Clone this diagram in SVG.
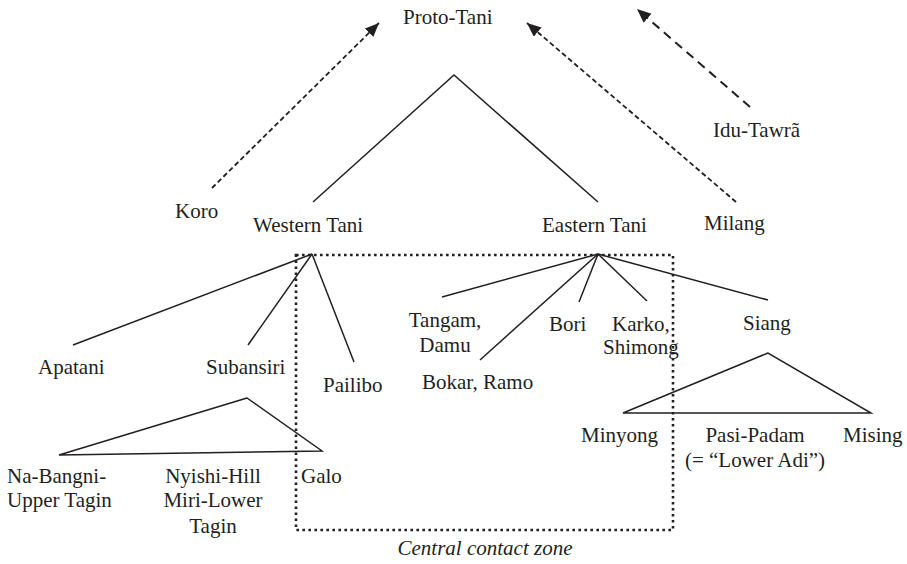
<svg xmlns="http://www.w3.org/2000/svg" width="907" height="564" viewBox="0 0 907 564" font-family="'Liberation Serif', 'DejaVu Serif', serif">
  <style>
    text { font-family: 'Liberation Serif', 'DejaVu Serif', serif; font-size: 21px; fill: #231f20; }
    .mid { text-anchor: middle; }
    .it { font-style: italic; }
    .tree { stroke: #231f20; stroke-width: 1.5; fill: none; }
    .contact { stroke: #231f20; stroke-width: 1.8; fill: none; stroke-dasharray: 5 3; }
    .contact-long { stroke: #231f20; stroke-width: 2; fill: none; stroke-dasharray: 9 6; }
    .zone { stroke: #231f20; stroke-width: 2.6; fill: none; stroke-dasharray: 2.6 3.4; }
  </style>
  <defs>
    <marker id="head" markerUnits="userSpaceOnUse" markerWidth="16" markerHeight="14" refX="14" refY="6" orient="auto">
      <path d="M0,0 L14,6 L0,12 Z" fill="#231f20"/>
    </marker>
  </defs>
  <rect width="907" height="564" fill="#ffffff"/>

  <!-- central contact zone frame -->
  <g id="contact-zone">
    <rect class="zone" x="296" y="255" width="377" height="275"/>
    <text class="it mid" x="485" y="555">Central contact zone</text>
  </g>

  <!-- connectors -->
  <g id="connectors">
    <polyline class="tree" points="313,202 454,75 598,202"/>
    <line class="tree" x1="312" y1="254" x2="73" y2="345"/>
    <line class="tree" x1="312" y1="254" x2="248" y2="345"/>
    <line class="tree" x1="312" y1="254" x2="354" y2="362"/>
    <polygon class="tree" points="247,398 59,455 322,451"/>
    <line class="tree" x1="598" y1="254" x2="442" y2="297"/>
    <line class="tree" x1="598" y1="254" x2="480" y2="360"/>
    <line class="tree" x1="598" y1="254" x2="579" y2="302"/>
    <line class="tree" x1="598" y1="254" x2="647" y2="301"/>
    <line class="tree" x1="598" y1="254" x2="768" y2="300"/>
    <polygon class="tree" points="768,353 623,413 871,413"/>
    <line class="contact" x1="212" y1="188" x2="379" y2="23" marker-end="url(#head)"/>
    <line class="contact" x1="736" y1="202" x2="527" y2="23" marker-end="url(#head)"/>
    <line class="contact-long" x1="750" y1="107" x2="637" y2="9" marker-end="url(#head)"/>
  </g>

  <g id="proto-tani"><text x="403" y="24">Proto-Tani</text></g>
  <g id="idu-tawra"><text x="713" y="137">Idu-Tawrã</text></g>
  <g id="koro"><text x="175" y="218">Koro</text></g>
  <g id="western-tani"><text x="253" y="232">Western Tani</text></g>
  <g id="eastern-tani"><text x="542" y="232">Eastern Tani</text></g>
  <g id="milang"><text x="704" y="230">Milang</text></g>

  <g id="apatani"><text x="38" y="374">Apatani</text></g>
  <g id="subansiri"><text x="206" y="374">Subansiri</text></g>
  <g id="pailibo"><text x="323" y="392">Pailibo</text></g>
  <g id="na-bangni"><text x="7" y="483">Na-Bangni-</text><text x="7" y="507">Upper Tagin</text></g>
  <g id="nyishi"><text class="mid" x="213" y="483">Nyishi-Hill</text><text class="mid" x="213" y="507">Miri-Lower</text><text class="mid" x="213" y="533">Tagin</text></g>
  <g id="galo"><text x="301" y="483">Galo</text></g>

  <g id="tangam"><text class="mid" x="445" y="327">Tangam,</text><text class="mid" x="445" y="352">Damu</text></g>
  <g id="bokar"><text x="422" y="389">Bokar, Ramo</text></g>
  <g id="bori"><text x="549" y="331">Bori</text></g>
  <g id="karko"><text x="612" y="331">Karko,</text><text x="603" y="354">Shimong</text></g>
  <g id="siang"><text x="743" y="330">Siang</text></g>
  <g id="minyong"><text x="581" y="442">Minyong</text></g>
  <g id="pasi-padam"><text class="mid" x="755" y="442">Pasi-Padam</text><text class="mid" x="755" y="467">(= “Lower Adi”)</text></g>
  <g id="mising"><text x="843" y="442">Mising</text></g>
</svg>
